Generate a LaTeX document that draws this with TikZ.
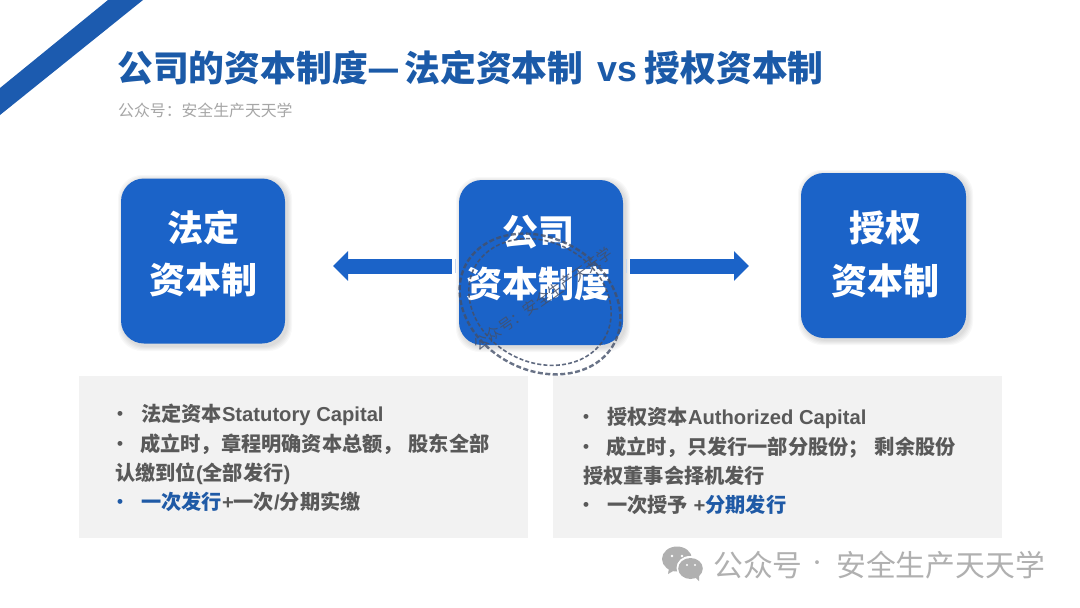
\documentclass[tikz,border=0pt]{standalone}
\usepackage{fontspec}
\setmainfont{Liberation Sans}
\newfontfamily\cjk{Noto Sans CJK SC}
\newcommand{\zh}[1]{{\cjk #1}}
\usetikzlibrary{arrows.meta}
\definecolor{barblue}{HTML}{1C5BAF}
\definecolor{titleblue}{HTML}{1B5AA8}
\definecolor{boxblue}{HTML}{1B63C8}
\definecolor{panelgray}{HTML}{F2F2F2}
\definecolor{bodygray}{HTML}{595959}
\definecolor{hiblue}{HTML}{1F5AA6}
\definecolor{subgray}{HTML}{A6A6A6}
\definecolor{markgray}{HTML}{B0B0B0}
\definecolor{stampink}{HTML}{44506A}
\tikzset{
  x=1pt,y=-1pt,
  bigbox/.style={fill=boxblue,rounded corners=23pt,minimum width=164pt,minimum height=165pt,inner sep=0pt},
  boxtext/.style={text=white,font=\bfseries\fontsize{36}{36}\selectfont\cjk,inner sep=0pt,anchor=center},
  panelbox/.style={fill=panelgray,minimum width=449pt,minimum height=162pt,inner sep=0pt},
  bodyline/.style={text=bodygray,font=\bfseries\fontsize{20.2}{20}\selectfont,inner sep=0pt,anchor=base west},
  bulletmark/.style={text=bodygray,font=\bfseries\fontsize{17}{17}\selectfont,inner sep=0pt,anchor=center},
  flowarrow/.style={draw=boxblue,line width=15pt,-{Triangle[length=15pt,width=29pt]}},
  stampline/.style={draw=stampink,line width=1.6pt,dash pattern=on 4pt off 2.2pt},
  stampouter/.style={draw=stampink,line width=2.4pt,dash pattern=on 5pt off 2.5pt},
}
\newcommand{\softshadow}[4]{%
  \foreach \g in {5,4,3,2,1}{
    \fill[black,opacity=0.028,rounded corners=24pt]
      (#1-\g+2,#2-\g+2) rectangle (#3+\g+2,#4+\g+2);
  }}
\begin{document}
\begin{tikzpicture}
\useasboundingbox (0,0) rectangle (1080,608);
\fill[white] (0,0) rectangle (1080,608);
% corner bar
\fill[barblue] (108,0) -- (143,0) -- (0,115) -- (0,88) -- cycle;
% title
\node[anchor=base west,inner sep=0pt,text=titleblue,font=\bfseries\fontsize{35.8}{36}\selectfont] (title) at (117,81)
  {\zh{公司的资本制度—\hspace{4pt}法定资本制}\hspace{4pt} v\hspace{0.5pt}s\hspace{-3pt} \zh{授权资本制}};
\node[anchor=base west,inner sep=0pt,text=subgray,font=\fontsize{15.85}{16}\selectfont\cjk] (subtitle) at (118,116)
  {公众号：安全生产天天学};
% shadows
\softshadow{121}{178}{285}{344}
\softshadow{459}{180}{623}{345}
\softshadow{801}{173}{966}{338}
% boxes
\node[bigbox] (left) at (203,261) {};
\node[bigbox] (core) at (541,262.5) {};
\node[bigbox,minimum width=165pt] (right) at (883.5,255.5) {};
\node[boxtext] (leftA) at (203,228) {法定};
\node[boxtext] (leftB) at (203,280) {资本制};
\node[boxtext] (coreA) at (538,232) {公司};
\node[boxtext] (coreB) at (538,284) {资本制度};
\node[boxtext] (rightA) at (885,228) {授权};
\node[boxtext] (rightB) at (885,281) {资本制};
% arrows
\coordinate (tipL) at (333,266);
\coordinate (tipR) at (749,266);
\draw[flowarrow,shorten <=7pt] (core.west |- tipL) -- (tipL);
\draw[flowarrow,shorten <=7pt] (core.east |- tipR) -- (tipR);
\draw[draw=boxblue!25,line width=1pt] (455,259) -- (455,273);
\draw[draw=boxblue!25,line width=1pt] (626,259) -- (626,273);
% panels
\node[panelbox] (panelL) at (303.5,457) {};
\node[panelbox] (panelR) at (777.5,457) {};
% left panel text
\node[bulletmark] (l1b) at (120,415) {•};
\node[bodyline] (l1) at (141,421) {\zh{法定资本}Statutory Capital};
\node[bulletmark] (l2b) at (120,445) {•};
\node[bodyline] (l2) at (140,451) {\zh{成立时，章程明确资本总额，\hspace{6pt}股东全部}};
\node[bodyline] (l3) at (115,480) {\zh{认缴到位}(\zh{全部发行})};
\node[bulletmark,text=hiblue] (l4b) at (120,503) {•};
\node[bodyline] (l4) at (141,509) {\textcolor{hiblue}{\zh{一次发行}}+\zh{一次}/\zh{分期实缴}};
% right panel text
\node[bulletmark] (r1b) at (586,418) {•};
\node[bodyline] (r1) at (607,424) {\zh{授权资本}Authorized Capital};
\node[bulletmark] (r2b) at (586,448) {•};
\node[bodyline] (r2) at (606,454) {\zh{成立时，只发行一部分股份；\hspace{6pt}剩余股份}};
\node[bodyline] (r3) at (583,483) {\zh{授权董事会择机发行}};
\node[bulletmark] (r4b) at (586,506) {•};
\node[bodyline] (r4) at (607,512) {\zh{一次授予} +\textcolor{hiblue}{\zh{分期发行}}};
% stamp
\draw[stampouter,opacity=.8] (540,304) [rotate around={-28:(540,304)}] ellipse [x radius=84,y radius=66];
\draw[stampline,opacity=.85] (540,302) [rotate around={-28:(540,302)}] ellipse [x radius=74,y radius=60];
\node[rotate=35,text=stampink,font=\fontsize{15}{15}\selectfont\cjk,inner sep=0pt,opacity=.85] (stamptext) at (543,299) {公众号：安全生产天天学};
% watermark icon
\fill[markgray] (677,559) ellipse [x radius=15,y radius=12.5];
\fill[markgray] (669,568) -- (668,574) -- (675,570) -- cycle;
\fill[white] (690,568) ellipse [x radius=13.5,y radius=12];
\fill[markgray] (690.5,568.5) ellipse [x radius=12.3,y radius=10.5];
\fill[markgray] (694,576) -- (699,581) -- (699,574) -- cycle;
\fill[white] (672,556) circle (1.4) (682,556) circle (1.4) (687,565) circle (1.2) (695,565) circle (1.2);
\node[anchor=base west,inner sep=0pt,text=markgray,font=\fontsize{29.8}{30}\selectfont\cjk] (markA) at (713,576) {公众号};
\node[anchor=center,inner sep=0pt,text=markgray,font=\fontsize{18}{18}\selectfont\cjk] (markdot) at (817,565) {·};
\node[anchor=base west,inner sep=0pt,text=markgray,font=\fontsize{29.8}{30}\selectfont\cjk] (markB) at (836,576) {安全生产天天学};
\end{tikzpicture}
\end{document}
